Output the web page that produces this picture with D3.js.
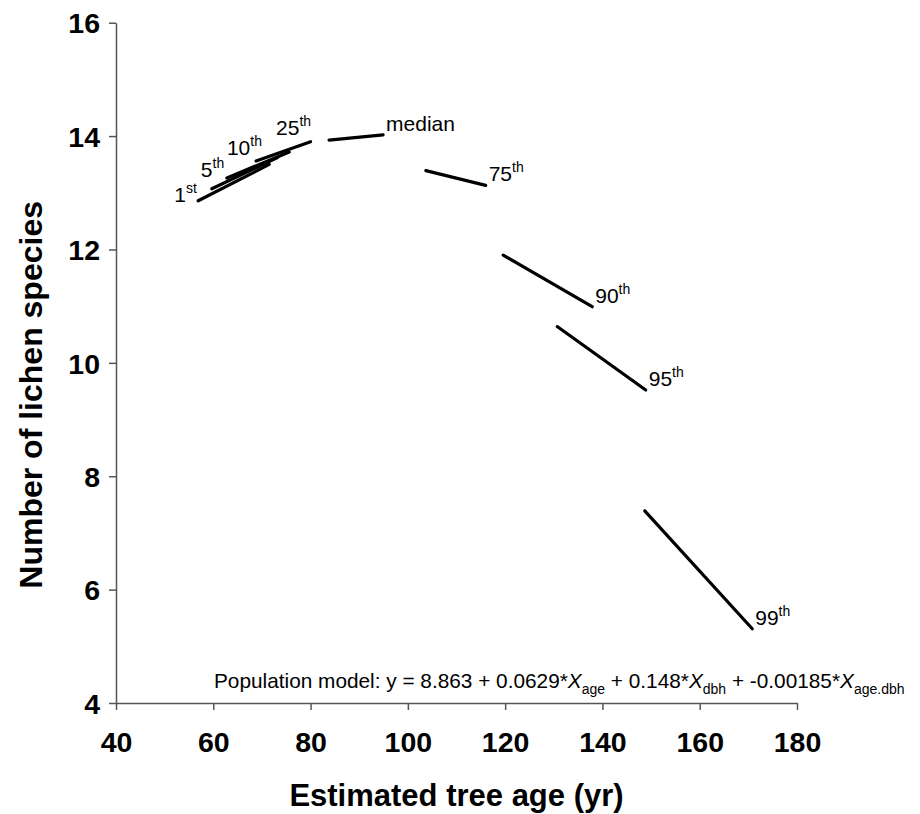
<!DOCTYPE html>
<html>
<head>
<meta charset="utf-8">
<script src="https://cdn.jsdelivr.net/npm/d3@7"></script>
<style>
  html, body { margin: 0; padding: 0; background: #fff; }
  svg { display: block; font-family: "Liberation Sans", Arial, sans-serif; }
</style>
</head>
<body>
<svg id="chart" width="920" height="814"></svg>
<script>
// Predicted lichen richness across the age range of each percentile class
const percentiles = ["1", "5", "10", "25", "median", "75", "90", "95", "99"];
const suffixes    = ["st", "th", "th", "th", "", "th", "th", "th", "th"];
const ageStart    = [56.9, 59.7, 62.8, 68.8, 83.8, 103.7, 119.6, 130.7, 148.7];
const ageEnd      = [71.5, 73.2, 75.6, 80.0, 94.9, 116.0, 137.9, 148.9, 170.8];
const richStart   = [12.86, 13.07, 13.26, 13.56, 13.93, 13.39, 11.90, 10.64, 7.39];
const richEnd     = [13.50, 13.62, 13.72, 13.90, 14.02, 13.13, 10.99, 9.52, 5.31];

const xTicks = [40, 60, 80, 100, 120, 140, 160, 180];
const yTicks = [4, 6, 8, 10, 12, 14, 16];

const W = 920, H = 814;
const margin = { top: 22.7, right: 123, bottom: 111, left: 116 };

const svg = d3.select("#chart");
const x = d3.scaleLinear().domain([40, 180]).range([margin.left, W - margin.right]);
const y = d3.scaleLinear().domain([4, 16]).range([H - margin.bottom, margin.top]);

// Axes
const gx = svg.append("g")
  .attr("transform", `translate(0,${y(4)})`)
  .call(d3.axisBottom(x).tickValues(xTicks).tickSize(7).tickSizeOuter(0).tickPadding(22));
const gy = svg.append("g")
  .attr("transform", `translate(${x(40)},0)`)
  .call(d3.axisLeft(y).tickValues(yTicks).tickSize(7).tickSizeOuter(0).tickPadding(9));

[gx, gy].forEach(g => {
  g.select(".domain").attr("stroke", "#555").attr("stroke-width", 1.5);
  g.selectAll(".tick line").attr("stroke", "#555").attr("stroke-width", 1.5);
  g.selectAll(".tick text")
    .attr("fill", "#000")
    .style("font-size", "28.5px")
    .style("font-weight", "bold")
    .style("font-family", "'Liberation Sans', Arial, sans-serif");
});
gy.selectAll(".tick text").attr("dy", "0.36em");

// Axis titles
svg.append("text")
  .attr("x", (x(40) + x(180)) / 2)
  .attr("y", 806)
  .attr("text-anchor", "middle")
  .style("font-size", "31px")
  .style("font-weight", "bold")
  .text("Estimated tree age (yr)");

svg.append("text")
  .attr("transform", `translate(42,${(y(4) + y(16)) / 2 + 32}) rotate(-90)`)
  .attr("text-anchor", "middle")
  .style("font-size", "32px")
  .style("font-weight", "bold")
  .text("Number of lichen species");

// Percentile segments
const segs = percentiles.map((p, i) => ({
  p, suf: suffixes[i], x0: ageStart[i], x1: ageEnd[i], y0: richStart[i], y1: richEnd[i], i
}));

svg.append("g").selectAll("line")
  .data(segs)
  .join("line")
  .attr("x1", d => x(d.x0)).attr("y1", d => y(d.y0))
  .attr("x2", d => x(d.x1)).attr("y2", d => y(d.y1))
  .attr("stroke", "#000")
  .attr("stroke-width", 3.2)
  .attr("stroke-linecap", "round");

// Labels: the low percentiles sit above the start of their segment,
// the others follow the end of their segment.
const leftOffsets = [[-24, 1], [-11, -12], [0, -23], [20, -26]];
const labels = svg.append("g").style("font-size", "21px");
segs.forEach(d => {
  let lx, ly;
  if (d.i < 4) {
    lx = x(d.x0) + leftOffsets[d.i][0];
    ly = y(d.y0) + leftOffsets[d.i][1];
  } else {
    lx = x(d.x1) + 3;
    ly = y(d.y1) - 4;
  }
  const t = labels.append("text").attr("x", lx).attr("y", ly);
  t.append("tspan").text(d.p);
  if (d.suf) {
    t.append("tspan").attr("dy", -9).style("font-size", "14px").text(d.suf);
  }
});

// Model equation
const eq = svg.append("text")
  .attr("x", 214)
  .attr("y", 688)
  .style("font-size", "20.8px");
const sub = (txt) => eq.append("tspan").attr("dy", 6).style("font-size", "14px").text(txt);
const back = (txt) => eq.append("tspan").attr("dy", -6).text(txt);
eq.append("tspan").text("Population model: y = 8.863 + 0.0629*");
eq.append("tspan").style("font-style", "italic").text("X");
sub("age");
back(" + 0.148*");
eq.append("tspan").style("font-style", "italic").text("X");
sub("dbh");
back(" + -0.00185*");
eq.append("tspan").style("font-style", "italic").text("X");
sub("age.dbh");
</script>
</body>
</html>
